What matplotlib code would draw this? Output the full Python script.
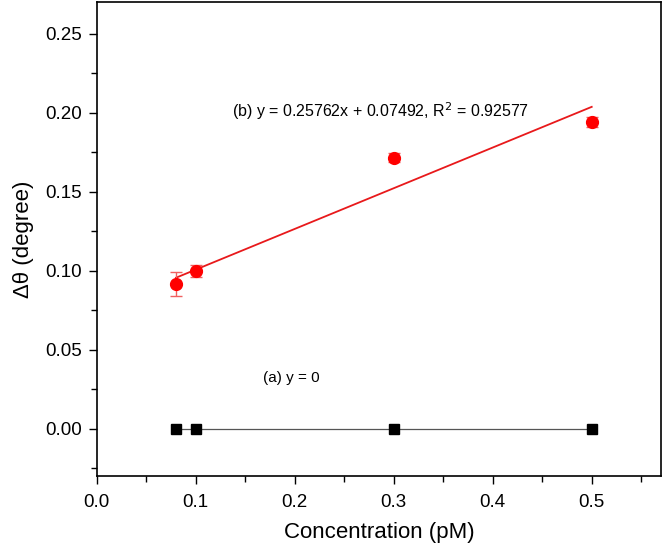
import numpy as np
import matplotlib
matplotlib.use("Agg")
from matplotlib import pyplot as plt
from matplotlib.ticker import MultipleLocator

plt.rcParams['font.family'] = ['Liberation Sans', 'DejaVu Sans']

# 데이터
conc = [0.08, 0.1, 0.3, 0.5]
blank = [0.0, 0.0, 0.0, 0.0]
shift = [0.0915, 0.100, 0.1715, 0.194]
shift_err = [0.0078, 0.0038, 0.003, 0.003]
slope = 0.25762
intercept = 0.07492

fig = plt.figure(figsize=(6.63, 5.44), dpi=100)
ax = fig.add_axes([0.146, 0.125, 0.851, 0.871])

# (a) 대조군
ax.plot(conc, blank, color="#555555", linewidth=0.9, marker="s", markersize=7,
        markerfacecolor="black", markeredgecolor="black", zorder=3)

# (b) 측정값 + 선형 피팅
x_fit = np.array([conc[0], conc[-1]])
ax.plot(x_fit, slope * x_fit + intercept, color="#e8191b", linewidth=1.3, zorder=2)
ax.errorbar(conc, shift, yerr=shift_err, fmt="o", color="red", markersize=8.5,
            ecolor="#f06060", elinewidth=1, capsize=4, capthick=1, zorder=4)

ax.text(0.137, 0.201, "(b) y = 0.25762x + 0.07492, R$^2$ = 0.92577", fontsize=11.5,
        va="center", ha="left")
ax.text(0.168, 0.032, "(a) y = 0", fontsize=11, va="center", ha="left")

ax.set_xlim(0, 0.57)
ax.set_ylim(-0.03, 0.27)
ax.xaxis.set_major_locator(MultipleLocator(0.1))
ax.xaxis.set_minor_locator(MultipleLocator(0.05))
ax.yaxis.set_major_locator(MultipleLocator(0.05))
ax.yaxis.set_minor_locator(MultipleLocator(0.025))
ax.xaxis.set_major_formatter(plt.FormatStrFormatter("%.1f"))
ax.yaxis.set_major_formatter(plt.FormatStrFormatter("%.2f"))
ax.tick_params(which="major", direction="out", length=6, width=1, labelsize=13.5)
ax.tick_params(axis="x", which="major", pad=7)
ax.tick_params(axis="y", which="major", pad=5)
ax.tick_params(which="minor", direction="out", length=4, width=1)
for s in ax.spines.values():
    s.set_linewidth(1.2)

ax.set_xlabel("Concentration (pM)", fontsize=16, labelpad=8)
ax.set_ylabel("Δθ (degree)", fontsize=16, labelpad=8)

fig.savefig("out.png", dpi=100)
